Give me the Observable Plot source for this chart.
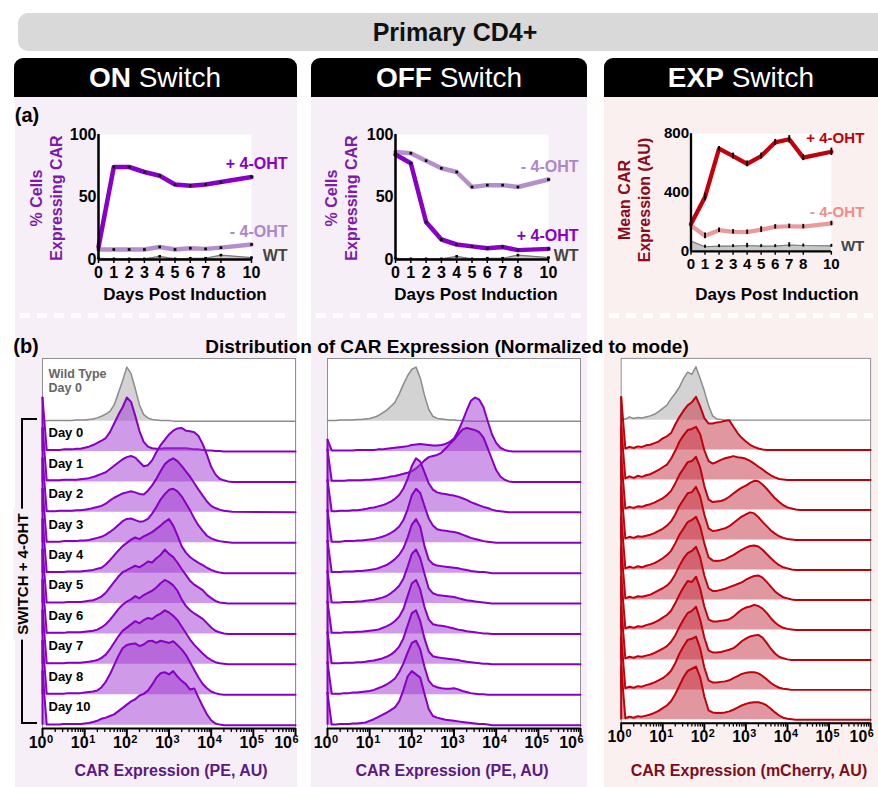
<!DOCTYPE html>
<html><head><meta charset="utf-8">
<script src="https://cdn.jsdelivr.net/npm/d3@7"></script>
<script src="https://cdn.jsdelivr.net/npm/@observablehq/plot@0.6"></script>
<style>
body{margin:0;background:#fff;}
#fig{position:relative;width:878px;height:787px;overflow:hidden;background:#fff;font-family:"Liberation Sans",Arial,Helvetica,sans-serif;}
</style></head>
<body><div id="fig"></div>
<script>
// ---------------- DATA ----------------
const days = [0, 1, 2, 3, 4, 5, 6, 7, 8, 10];
const lineLabels = ["+ 4-OHT", "- 4-OHT", "WT"];

const onPlus  = [10, 74, 74, 70, 67, 60, 59, 60, 62, 66];
const onMinus = [8, 8, 8, 8, 10, 8, 9, 8.5, 9.5, 12];
const onWT    = [1, 0.5, 0.5, 0.5, 2.5, 0.5, 1, 1, 3.5, 1.5];

const offPlus  = [84, 77, 30, 16, 12, 10.5, 9, 10, 7.5, 8.5];
const offMinus = [86, 85, 79, 73, 70, 58, 59.5, 59.5, 58, 64];
const offWT    = [1, 0.5, 0.5, 0.5, 2.5, 0.5, 1, 1, 3.5, 1.5];

const expPlus  = [186, 370, 698, 648, 595, 648, 741, 762, 637, 677];
const expMinus = [176, 106, 144, 133, 131, 148, 167, 171, 169, 190];
const expWT    = [70, 32, 36, 36, 40, 36, 36, 44, 40, 38];
const expPlusErr  = [20, 25, 15, 20, 20, 20, 20, 25, 20, 25];
const expMinusErr = [20, 20, 15, 15, 15, 20, 15, 15, 15, 15];
const expWTErr    = [15, 10, 10, 10, 15, 10, 10, 15, 10, 10];

// histogram grid: log10(CAR expression)
const logX = [0,0.1,0.2,0.3,0.4,0.5,0.6,0.7,0.8,0.9,1,1.1,1.2,1.3,1.4,1.5,1.6,1.7,1.8,1.9,2,2.1,2.2,2.3,2.4,2.5,2.6,2.7,2.8,2.9,3,3.1,3.2,3.3,3.4,3.5,3.6,3.7,3.8,3.9,4,4.1,4.2,4.3,4.4,4.5,6];
const rowLabels = ["Wild Type\nDay 0", "Day 0", "Day 1", "Day 2", "Day 3", "Day 4", "Day 5", "Day 6", "Day 7", "Day 8", "Day 10"];
const decadeBase = "10";
const decadeExps = ["0", "1", "2", "3", "4", "5", "6"];

// ON switch (% of mode)
const onHWT = [0,1,1,1,1,1,1,1,2,2, 2,3,4,6,9,13,18,30,52,75, 100,88,60,30,12,6,3,2,1,1, 1,0,0,0,0,0,0,0,0,0, 0,0,0,0,0,0, 0];
const onH0  = [100,3,3,3,3,4,4,4,5,5, 7,9,12,16,20,25,36,52,68,82, 100,92,66,38,18,9,6,5,5,6, 6,6,6,6,6,5,4,4,3,2, 2,1,1,0,0,0, 0];
const onH1  = [100,3,3,3,3,4,4,4,4,5, 6,7,9,12,15,18,24,30,36,42, 46,48,45,37,29,31,40,55,68,78, 88,95,99,100,95,94,92,85,70,50, 28,14,6,3,1,0, 0];
const onH2  = [100,2,2,2,3,3,3,3,4,4, 5,6,8,10,12,16,22,27,31,35, 37,39,37,34,33,40,50,62,76,89, 96,100,95,86,76,66,54,42,31,20, 12,8,5,3,2,1, 0];
const onH3  = [100,2,2,2,2,3,3,3,3,4, 4,5,7,9,11,15,20,26,33,40, 44,45,42,39,40,44,54,66,80,90, 98,100,95,86,73,60,45,32,22,13, 8,5,3,2,1,0, 0];
const onH4  = [100,2,2,2,2,2,3,3,3,3, 4,5,6,8,10,16,24,33,42,50, 56,62,66,63,68,72,76,82,88,95, 100,88,70,50,38,30,24,19,15,10, 6,3,1,0,0,0, 0];
const onH5  = [100,2,2,2,2,2,3,3,3,3, 4,5,6,9,13,20,30,40,50,58, 62,66,70,67,72,78,76,84,90,100, 92,86,76,64,53,42,35,30,25,16, 10,5,2,1,0,0, 0];
const onH6  = [100,2,2,2,2,2,3,3,3,3, 4,5,6,8,12,18,26,36,46,54, 60,64,70,66,72,76,80,86,94,100, 96,90,80,64,52,44,38,33,28,20, 12,6,3,1,0,0, 0];
const onH7  = [100,2,2,2,2,2,3,3,3,3, 4,5,6,8,12,18,28,40,52,62, 68,74,80,76,82,86,84,90,94,100, 96,90,82,70,58,46,36,28,20,13, 8,4,2,1,0,0, 0];
const onH8  = [100,2,2,2,2,2,3,3,3,3, 4,5,6,8,14,24,38,55,72,86, 92,94,95,90,93,99,100,96,100,98, 96,99,92,84,74,60,46,32,20,12, 6,3,1,0,0,0, 0];
const onH10 = [100,1,1,1,1,2,2,2,2,2, 3,4,6,8,12,14,17,20,26,32, 38,44,48,55,58,64,75,88,96,98, 94,100,90,82,76,66,68,51,35,20, 9,3,1,0,0,0, 0];

// OFF switch
const offHWT = [1,1,1,2,2,2,2,3,3,4, 5,7,10,15,20,27,35,50,68,84, 96,100,80,48,22,9,5,4,3,2, 2,1,1,0,0,0,0,0,0,0, 0,0,0,0,0,0, 0];
const offH0  = [22,2,2,2,2,2,2,3,3,3, 3,3,4,4,5,6,7,8,9,10, 12,13,14,13,12,11,11,12,14,18, 24,38,56,76,94,100,96,82,56,32, 16,7,3,1,0,0, 0];
const offH1  = [60,2,2,2,2,3,3,3,3,4, 4,5,6,7,8,10,11,13,15,17, 20,25,32,40,46,48,50,54,62,70, 78,88,97,100,98,96,92,82,62,42, 22,10,4,1,0,0, 0];
const offH2  = [60,2,2,3,3,3,4,4,5,6, 8,9,11,13,16,20,25,32,44,62, 86,100,94,74,54,42,37,35,34,32, 31,29,26,23,19,16,13,10,8,5, 3,2,1,0,0,0, 0];
const offH3  = [60,2,2,2,3,3,3,4,4,5, 6,7,9,11,14,18,23,30,42,62, 88,100,92,68,45,32,25,23,22,21, 20,18,15,12,9,7,5,3,2,1, 0,0,0,0,0,0, 0];
const offH4  = [60,2,2,2,3,3,3,4,4,5, 6,7,9,12,15,20,26,34,46,66, 90,100,86,50,25,17,14,13,12,11, 10,9,7,6,4,3,2,2,1,0, 0,0,0,0,0,0, 0];
const offH5  = [60,2,2,2,3,3,3,4,4,5, 6,7,9,11,14,19,25,33,46,68, 92,100,84,55,28,19,16,15,14,13, 12,10,8,6,5,4,3,2,1,0, 0,0,0,0,0,0, 0];
const offH6  = [60,2,2,2,3,3,3,4,4,5, 6,7,8,11,14,18,24,32,46,70, 94,100,82,50,27,18,16,15,14,12, 10,8,7,5,4,3,2,1,1,0, 0,0,0,0,0,0, 0];
const offH7  = [60,2,2,2,3,3,3,4,4,5, 6,7,9,11,14,18,24,33,48,72, 95,100,80,48,24,15,13,12,11,10, 9,8,6,5,4,3,2,1,1,0, 0,0,0,0,0,0, 0];
const offH8  = [60,2,2,2,3,3,4,4,5,6, 7,9,12,15,19,24,30,42,58,78, 96,100,84,52,26,17,14,12,11,11, 12,10,7,5,3,2,1,1,0,0, 0,0,0,0,0,0, 0];
const offH10 = [60,1,1,2,2,2,3,3,4,5, 8,11,15,19,23,28,33,44,65,90, 100,94,88,58,30,17,14,12,10,9, 8,7,6,5,4,3,2,2,1,0, 0,0,0,0,0,0, 0];

// EXP switch
const expHWT = [0,2,6,3,5,4,6,8,11,16, 22,28,40,50,62,78,90,86,100,78, 55,28,8,2,1,0,0,0,0,0, 0,0,0,0,0,0,0,0,0,0, 0,0,0,0,0,0, 0];
const expH0  = [100,3,6,4,7,6,9,10,13,16, 22,26,32,48,62,74,84,90,100,82, 60,50,50,52,53,55,56,44,32,23, 16,10,6,3,1,0,0,0,0,0, 0,0,0,0,0,0, 0];
const expH1  = [100,3,7,4,8,6,9,11,15,19, 24,29,40,55,72,84,94,96,100,86, 56,36,31,34,38,41,43,45,43,42, 40,36,31,25,20,14,9,5,2,1, 0,0,0,0,0,0, 0];
const expH2  = [100,3,6,4,7,6,9,11,14,18, 22,28,36,50,66,78,90,92,100,80, 45,20,15,16,17,20,25,31,37,42, 46,51,55,54,48,40,31,22,15,9, 5,3,1,0,0,0, 0];
const expH3  = [100,3,6,4,7,6,8,10,13,17, 21,27,35,48,64,76,88,90,100,82, 48,22,17,18,20,22,26,32,38,44, 48,52,50,43,34,26,18,12,7,4, 2,1,0,0,0,0, 0];
const expH4  = [100,3,6,4,7,5,8,10,13,17, 22,28,36,50,66,78,90,94,100,82, 50,24,18,17,18,20,24,28,33,38, 42,45,46,44,38,30,22,15,9,5, 3,1,0,0,0,0, 0];
const expH5  = [100,3,6,4,7,6,8,10,14,18, 22,27,35,48,64,78,88,92,100,80, 46,22,17,17,19,21,24,27,30,33, 38,42,45,46,42,34,25,16,10,5, 3,1,0,0,0,0, 0];
const expH6  = [100,3,6,4,7,6,9,11,14,18, 23,28,36,50,66,80,92,90,100,78, 44,20,16,16,17,18,20,25,32,38, 42,44,47,45,40,32,22,14,8,4, 2,1,0,0,0,0, 0];
const expH7  = [100,3,6,4,7,6,8,10,13,17, 21,26,34,46,62,76,88,92,100,76, 42,18,14,14,15,17,19,22,28,35, 40,44,46,47,42,32,21,12,6,3, 1,0,0,0,0,0, 0];
const expH8  = [100,3,6,4,7,6,9,11,14,18, 22,28,36,50,68,82,94,96,100,78, 42,18,14,14,15,16,18,22,26,30, 32,33,33,31,26,20,13,8,4,2, 1,0,0,0,0,0, 0];
const expH10 = [100,3,6,4,7,6,8,10,13,17, 22,27,35,48,64,80,92,96,100,80, 44,18,14,13,13,14,16,19,23,27, 30,32,33,33,31,27,21,14,8,4, 2,1,0,0,0,0, 0];

const onRows  = [onHWT, onH0, onH1, onH2, onH3, onH4, onH5, onH6, onH7, onH8, onH10];
const offRows = [offHWT, offH0, offH1, offH2, offH3, offH4, offH5, offH6, offH7, offH8, offH10];
const expRows = [expHWT, expH0, expH1, expH2, expH3, expH4, expH5, expH6, expH7, expH8, expH10];

// ---------------- LAYOUT ----------------
const FONT = '"Liberation Sans", Arial, Helvetica, sans-serif';
const fig = document.getElementById("fig");
function box(css, html) {
  const d = document.createElement("div");
  d.style.cssText = "position:absolute;" + css;
  if (html != null) d.innerHTML = html;
  fig.appendChild(d);
  return d;
}
function ctext(x, y, html, css) {
  return box(`left:${x}px;top:${y}px;transform:translate(-50%,-50%);white-space:nowrap;${css}`, html);
}
function rtext(x, y, html, css) {
  return box(`left:${x}px;top:${y}px;transform:translate(-50%,-50%) rotate(-90deg);white-space:nowrap;${css}`, html);
}

const LAV = "#f6eff8", PINK = "#fbf0f0";
// banner
box("left:18px;top:13px;width:900px;height:38px;background:#d9d9d9;border-radius:10px;");
ctext(455, 32, "Primary CD4+", "font-weight:bold;font-size:25px;color:#111;");
// panels + tabs
const panels = [
  {x: 15, w: 282, bg: LAV, tx: 14, tw: 283},
  {x: 311, w: 276, bg: LAV, tx: 311, tw: 276},
  {x: 604, w: 290, bg: PINK, tx: 604, tw: 290}
];
for (const p of panels) {
  box(`left:${p.x}px;top:97px;width:${p.w}px;height:690px;background:${p.bg};`);
  box(`left:${p.tx}px;top:58px;width:${p.tw}px;height:39px;background:#000;border-radius:9px 9px 0 0;`);
  box(`left:${p.x + 5}px;top:313px;width:${Math.min(p.w, 878 - p.x) - 10}px;height:5px;background:repeating-linear-gradient(90deg,#fff 0 10px,transparent 10px 17px);`);
}
ctext(155, 78, "<b>ON</b> Switch", "color:#fff;font-size:28px;");
ctext(449, 78, "<b>OFF</b> Switch", "color:#fff;font-size:28px;");
ctext(741, 78, "<b>EXP</b> Switch", "color:#fff;font-size:28px;");

ctext(27, 115, "(a)", "font-weight:bold;font-size:20px;");
ctext(26, 346, "(b)", "font-weight:bold;font-size:20px;");
ctext(447, 347, "Distribution of CAR Expression (Normalized to mode)", "font-weight:bold;font-size:19px;");

// axis titles (a)
const daysTitle = "Days Post Induction";
ctext(185, 295, daysTitle, "font-weight:bold;font-size:17px;");
ctext(476, 295, daysTitle, "font-weight:bold;font-size:17px;");
ctext(777, 295, daysTitle, "font-weight:bold;font-size:17px;");
rtext(47, 198, "% Cells<br>Expressing CAR", "font-weight:bold;font-size:16px;line-height:20px;text-align:center;color:#7d1ba8;");
rtext(342, 198, "% Cells<br>Expressing CAR", "font-weight:bold;font-size:16px;line-height:20px;text-align:center;color:#7d1ba8;");
rtext(635, 200, "Mean CAR<br>Expression (AU)", "font-weight:bold;font-size:16px;line-height:20px;text-align:center;color:#8b0b1b;");
// axis titles (b)
ctext(171, 771, "CAR Expression (PE, AU)", "font-weight:bold;font-size:16px;color:#5b1a80;");
ctext(452, 771, "CAR Expression (PE, AU)", "font-weight:bold;font-size:16px;color:#5b1a80;");
ctext(749, 771, "CAR Expression (mCherry, AU)", "font-weight:bold;font-size:16px;color:#7c0d1b;");
// bracket
box("left:21px;top:418px;width:2px;height:306px;background:#000;");
box("left:21px;top:418px;width:16px;height:2px;background:#000;");
box("left:21px;top:722px;width:16px;height:2px;background:#000;");
rtext(22, 574, "SWITCH + 4-OHT", `font-weight:bold;font-size:15px;background:${LAV};padding:0 5px;`);

function place(node, left, top) {
  const d = box(`left:${left}px;top:${top}px;`);
  d.appendChild(node);
}

const svgStyle = {background: "transparent", fontFamily: FONT, fontWeight: "bold", fontSize: "15px", overflow: "visible", color: "black"};

// ---------------- LINE CHARTS ----------------
function lineChart(cfg) {
  const ser = (vals, errs) => days.map((d, i) => ({day: d, v: vals[i], lo: vals[i] - (errs ? errs[i] : 0), hi: vals[i] + (errs ? errs[i] : 0)}));
  const plus = ser(cfg.plus, cfg.plusErr), minus = ser(cfg.minus, cfg.minusErr), wt = ser(cfg.wt, cfg.wtErr);
  const markers = (data) => cfg.plusErr
    ? Plot.ruleX(data, {x: "day", y1: "lo", y2: "hi", stroke: "black", strokeWidth: 2})
    : Plot.dot(data, {x: "day", y: "v", r: 1.5, fill: "black", symbol: "square"});
  const lab = (data, i, fill, dy) => Plot.text(data.slice(-1), {x: "day", y: "v", text: () => lineLabels[i], textAnchor: "end", dx: cfg.ldx, dy, fill, fontSize: 16, fontWeight: "bold"});
  return Plot.plot({
    width: 242, height: 161, marginLeft: 43, marginRight: cfg.mr, marginTop: 14, marginBottom: 22,
    style: svgStyle,
    x: {domain: [0, 10]},
    y: {domain: [0, cfg.yMax]},
    marks: [
      Plot.frame({fill: "white", stroke: "none"}),
      Plot.areaY(wt, {x: "day", y: "v", fill: "#c8c8c8"}),
      Plot.lineY(wt, {x: "day", y: "v", stroke: "#7a7a7a", strokeWidth: 1.2}),
      Plot.lineY(minus, {x: "day", y: "v", stroke: cfg.cMinus, strokeWidth: 4.5}),
      Plot.lineY(plus, {x: "day", y: "v", stroke: cfg.cPlus, strokeWidth: 4.5}),
      markers(wt), markers(minus), markers(plus),
      Plot.ruleX([0], {stroke: "black", strokeWidth: 2.5}),
      Plot.ruleY([0], {stroke: "black", strokeWidth: 2.5}),
      Plot.axisX({ticks: days, tickSize: 4, tickPadding: 3, strokeWidth: 1.5, fontSize: 16, fontWeight: "bold", label: null}),
      Plot.axisY({ticks: cfg.yTicks, tickSize: 0, tickPadding: 2, fontSize: 16, fontWeight: "bold", label: null}),
      lab(plus, 0, cfg.lPlus, cfg.dyPlus),
      lab(minus, 1, cfg.lMinus, cfg.dyMinus),
      lab(wt, 2, "#444", cfg.dyWT)
    ]
  });
}

place(lineChart({plus: onPlus, minus: onMinus, wt: onWT, yMax: 100, yTicks: [0, 50, 100], mr: 46, ldx: 36,
  cPlus: "#8800c8", cMinus: "#b48fcc", lPlus: "#8800c8", lMinus: "#ad88c8", dyPlus: -13, dyMinus: -13, dyWT: -2}), 55, 120);
place(lineChart({plus: offPlus, minus: offMinus, wt: offWT, yMax: 100, yTicks: [0, 50, 100], mr: 46, ldx: 30,
  cPlus: "#8800c8", cMinus: "#b48fcc", lPlus: "#8800c8", lMinus: "#ad88c8", dyPlus: -13, dyMinus: -13, dyWT: -2}), 352, 120);
place(lineChart({plus: expPlus, minus: expMinus, wt: expWT, plusErr: expPlusErr, minusErr: expMinusErr, wtErr: expWTErr,
  yMax: 800, yTicks: [0, 400, 800], mr: 50, ldx: 35,
  cPlus: "#c1000b", cMinus: "#eb9a9c", lPlus: "#c1000b", lMinus: "#f08c8c", dyPlus: -14, dyMinus: -12, dyWT: 0}), 650, 120);

// ---------------- RIDGELINE HISTOGRAMS ----------------
function ridge(rows, cfg) {
  const n = rows.length;
  const H = 1.776; // mode height in row units
  const marks = [Plot.frame({fill: "white", stroke: "#8f8f8f", strokeWidth: 1})];
  rows.forEach((vals, k) => {
    const off = n - 1 - k;
    const pts = logX.map((v, i) => ({x: 10 ** v, base: off, top: off + vals[i] / 100 * H}));
    const wt = k === 0;
    const fill = wt ? "#d3d3d3" : cfg.fill;
    const stroke = wt ? "#8c8c8c" : cfg.stroke;
    marks.push(Plot.areaY(pts, {x: "x", y1: "base", y2: "top", fill, fillOpacity: wt ? 1 : 0.5}));
    if (!wt) marks.push(Plot.ruleX(pts.slice(0, 1), {x: "x", y1: "base", y2: "top", stroke, strokeWidth: 2}));
    marks.push(Plot.lineY(pts, {x: "x", y: "top", stroke, strokeWidth: wt ? 1.5 : 2}));
  });
  const minor = d3.range(0, 6).flatMap(d => d3.range(2, 10).map(m => m * 10 ** d));
  const decades = decadeExps.map((e, i) => ({x: 10 ** i, e, last: i === decadeExps.length - 1}));
  const major = decades.map(d => d.x);
  const inner = decades.filter(d => !d.last), edge = decades.filter(d => d.last);
  const base = (data, dx) => Plot.text(data, {x: "x", frameAnchor: "bottom", text: () => decadeBase, textAnchor: "end", dx, dy: 19.5, fontSize: 16, fontWeight: "bold", fill: "black"});
  const sup = (data, dx) => Plot.text(data, {x: "x", frameAnchor: "bottom", text: "e", textAnchor: "start", dx, dy: 14, fontSize: 11, fontWeight: "bold", fill: "black"});
  marks.push(
    Plot.ruleY([-0.11], {stroke: "black", strokeWidth: 2}),
    Plot.axisX({ticks: minor, tickSize: 4, strokeWidth: 1.3, tickFormat: () => "", label: null}),
    Plot.axisX({ticks: major, tickSize: 8, strokeWidth: 2, tickFormat: () => "", label: null}),
    base(inner, 4), sup(inner, 4.5),
    base(edge, -3.5), sup(edge, -3)
  );
  if (cfg.labels) {
    const lab = rowLabels.map((t, k) => ({x: 1, y: (n - 1 - k) + (k === 0 ? 1.35 : 0.6), t, wt: k === 0}));
    marks.push(
      Plot.text(lab.filter(d => !d.wt), {x: "x", y: "y", text: "t", textAnchor: "start", dx: 6, fontSize: 13, fontWeight: "bold", fill: "black"}),
      Plot.text(lab.filter(d => d.wt), {x: "x", y: "y", text: "t", textAnchor: "start", dx: 6, fontSize: 12.5, fontWeight: "bold", fill: "#666", lineHeight: 1.15})
    );
  }
  return Plot.plot({
    width: 283, height: 410, marginLeft: 22, marginRight: 8, marginTop: 8, marginBottom: 32,
    style: svgStyle,
    x: {type: "log", domain: [1, 1e6]},
    y: {domain: [-0.11, 12.06], axis: null},
    marks
  });
}

place(ridge(onRows, {fill: "#a035d0", stroke: "#8800c4", labels: true}), 20, 350);
place(ridge(offRows, {fill: "#a035d0", stroke: "#8800c4", labels: false}), 305, 350);
place(ridge(expRows, {fill: "#c43040", stroke: "#c0000c", labels: false}), 599, 350);
</script>
</body></html>
